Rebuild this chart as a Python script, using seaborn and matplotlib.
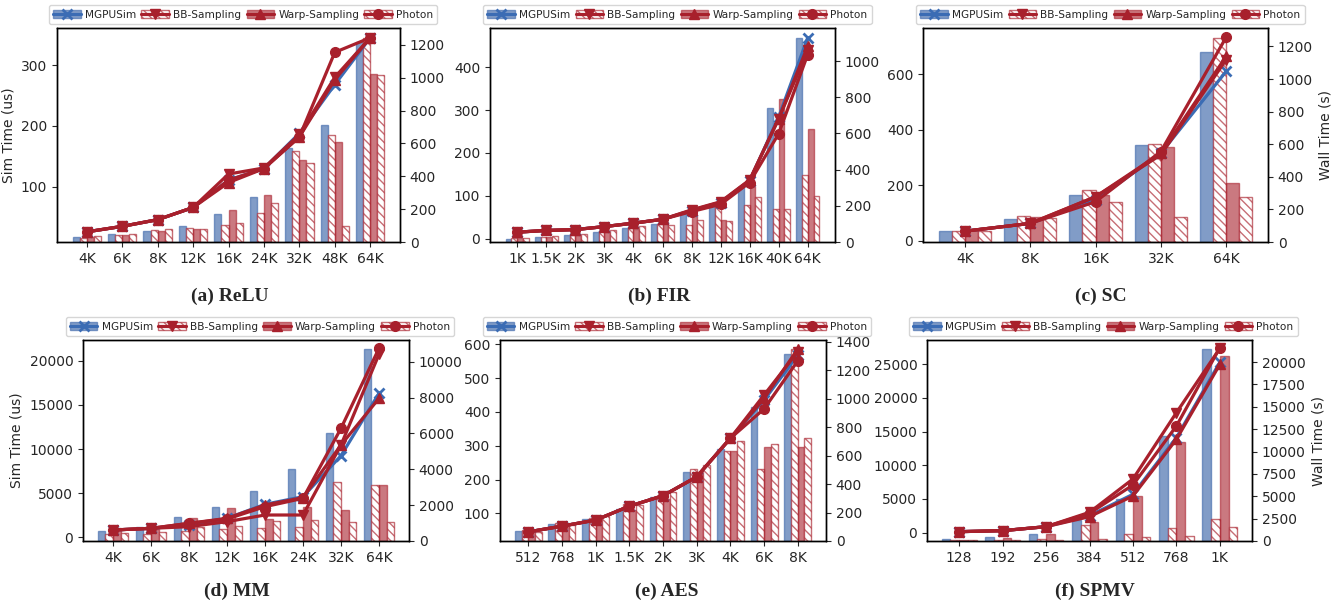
import numpy as np
import pandas as pd
import matplotlib
matplotlib.use("Agg")
import matplotlib.pyplot as plt
import seaborn as sns
from matplotlib.patches import Patch
from matplotlib.lines import Line2D
from matplotlib.ticker import MultipleLocator

# ---------------- data ----------------
methods = ["MGPUSim", "BB-Sampling", "Warp-Sampling", "Photon"]

relu_sizes = ["4K", "6K", "8K", "12K", "16K", "24K", "32K", "48K", "64K"]
relu_wall = {
    "MGPUSim":       [31, 47, 67, 96, 173, 275, 574, 710, 1215],
    "BB-Sampling":   [26, 41, 73, 85, 102, 175, 555, 653, 1240],
    "Warp-Sampling": [31, 45, 67, 77, 195, 285, 498, 606, 1025],
    "Photon":        [35, 47, 77, 77, 114, 236, 480, 100, 1019],
}
relu_sim = {
    "MGPUSim":       [26, 35, 46, 66, 111, 130, 188, 268, 345],
    "BB-Sampling":   [26, 35, 46, 66, 121, 131, 186, 280, 345],
    "Warp-Sampling": [26, 35, 46, 66, 107, 130, 182, 276, 345],
    "Photon":        [26, 35, 46, 66, 111, 130, 182, 321, 345],
}

fir_sizes = ["1K", "1.5K", "2K", "3K", "4K", "6K", "8K", "12K", "16K", "40K", "64K"]
fir_wall = {
    "MGPUSim":       [17, 26, 37, 55, 76, 98, 166, 212, 304, 740, 1127],
    "BB-Sampling":   [20, 28, 37, 61, 76, 102, 92, 205, 203, 183, 369],
    "Warp-Sampling": [20, 28, 39, 54, 72, 111, 152, 124, 308, 793, 624],
    "Photon":        [20, 33, 46, 65, 87, 92, 124, 115, 247, 185, 253],
}
fir_sim = {
    "MGPUSim":       [15, 19, 21, 28, 36, 45, 65, 84, 135, 284, 469],
    "BB-Sampling":   [15, 19, 21, 28, 36, 45, 67, 86, 137, 280, 440],
    "Warp-Sampling": [15, 19, 21, 28, 36, 45, 66, 85, 136, 280, 449],
    "Photon":        [15, 19, 21, 28, 36, 45, 63, 80, 131, 245, 430],
}

sc_sizes = ["4K", "8K", "16K", "32K", "64K"]
sc_wall = {
    "MGPUSim":       [66, 144, 287, 595, 1163],
    "BB-Sampling":   [68, 162, 316, 603, 1251],
    "Warp-Sampling": [72, 154, 287, 585, 363],
    "Photon":        [68, 150, 244, 156, 279],
}
sc_sim = {
    "MGPUSim":       [35, 63, 147, 316, 611],
    "BB-Sampling":   [35, 63, 159, 310, 653],
    "Warp-Sampling": [35, 63, 159, 316, 665],
    "Photon":        [35, 63, 141, 322, 734],
}

mm_sizes = ["4K", "6K", "8K", "12K", "16K", "24K", "32K", "64K"]
mm_wall = {
    "MGPUSim":       [574, 799, 1357, 1877, 2788, 4033, 6022, 10725],
    "BB-Sampling":   [390, 390, 558, 650, 706, 799, 3309, 3104],
    "Warp-Sampling": [706, 650, 1264, 1822, 1227, 1914, 1729, 3104],
    "Photon":        [465, 520, 799, 836, 1115, 1171, 1041, 1078],
}
mm_sim = {
    "MGPUSim":       [830, 1019, 1396, 2151, 3736, 4604, 9245, 16302],
    "BB-Sampling":   [830, 1019, 1208, 1774, 2528, 2528, 10453, 20717],
    "Warp-Sampling": [830, 1019, 1585, 2151, 3660, 4491, 10453, 15736],
    "Photon":        [830, 1019, 1585, 2075, 3472, 4415, 12340, 21396],
}

aes_sizes = ["512", "768", "1K", "1.5K", "2K", "3K", "4K", "6K", "8K"]
aes_wall = {
    "MGPUSim":       [70, 117, 152, 222, 307, 485, 644, 939, 1311],
    "BB-Sampling":   [75, 124, 164, 258, 318, 504, 635, 504, 1349],
    "Warp-Sampling": [75, 124, 155, 218, 295, 475, 630, 660, 658],
    "Photon":        [66, 112, 178, 253, 347, 534, 705, 679, 721],
}
aes_sim = {
    "MGPUSim":       [45, 62, 80, 121, 152, 208, 322, 435, 568],
    "BB-Sampling":   [45, 62, 80, 121, 152, 208, 322, 450, 578],
    "Warp-Sampling": [45, 62, 80, 121, 152, 208, 322, 440, 586],
    "Photon":        [45, 62, 80, 121, 152, 208, 322, 409, 551],
}

spmv_sizes = ["128", "192", "256", "384", "512", "768", "1K"]
spmv_wall = {
    "MGPUSim":       [186, 410, 782, 2347, 4694, 11736, 21498],
    "BB-Sampling":   [112, 112, 261, 1788, 745, 1416, 2459],
    "Warp-Sampling": [149, 373, 820, 2161, 5030, 11103, 20715],
    "Photon":        [75, 75, 149, 186, 410, 559, 1602],
}
spmv_sim = {
    "MGPUSim":       [149, 297, 891, 2525, 5693, 14109, 25297],
    "BB-Sampling":   [149, 297, 891, 3020, 7970, 17822, 27376],
    "Warp-Sampling": [149, 297, 891, 2376, 5446, 13861, 25000],
    "Photon":        [149, 297, 891, 2871, 7079, 15842, 27475],
}

# ---------------- style ----------------
sns.set_style("ticks")
plt.rcParams["font.family"] = ["DejaVu Sans"]
plt.rcParams["hatch.linewidth"] = 1.0
plt.rcParams["axes.linewidth"] = 1.0
plt.rcParams["xtick.labelsize"] = 10
plt.rcParams["ytick.labelsize"] = 10
plt.rcParams["xtick.major.size"] = 3.5
plt.rcParams["ytick.major.size"] = 3.5

BLUE_LINE = "#3b6cb4"
RED_LINE = "#a8202c"
BLUE_BAR = (0.298, 0.447, 0.690, 0.7)
RED_BAR = (0.659, 0.125, 0.173, 0.6)
RED_EDGE = (0.659, 0.125, 0.173, 0.65)

bar_styles = {
    "MGPUSim":       dict(fc=BLUE_BAR, ec=BLUE_BAR, hatch=None),
    "BB-Sampling":   dict(fc="white", ec=RED_EDGE, hatch="\\\\\\\\"),
    "Warp-Sampling": dict(fc=RED_BAR, ec=RED_BAR, hatch=None),
    "Photon":        dict(fc="white", ec=RED_EDGE, hatch="\\\\\\\\"),
}
line_styles = {
    "MGPUSim":       dict(color=BLUE_LINE, marker="x", mew=2.0),
    "BB-Sampling":   dict(color=RED_LINE, marker="v", mew=1.0),
    "Warp-Sampling": dict(color=RED_LINE, marker="^", mew=1.0),
    "Photon":        dict(color=RED_LINE, marker="o", mew=1.0),
}

W, H = 1331, 609
fig = plt.figure(figsize=(W / 100, H / 100), dpi=100)

panels = [
    dict(title="(a) ReLU", sizes=relu_sizes, wall=relu_wall, sim=relu_sim,
         rect=(57, 28, 343, 214), simlim=(9.3, 361), walllim=(0, 1302),
         simstep=100, wallstep=200,
         left="Sim Time (us)", right=None, tx=230, ty=296),
    dict(title="(b) FIR", sizes=fir_sizes, wall=fir_wall, sim=fir_sim,
         rect=(490, 28, 345, 214), simlim=(-8, 492), walllim=(0, 1183),
         simstep=100, wallstep=200,
         left=None, right=None, tx=659, ty=296),
    dict(title="(c) SC", sizes=sc_sizes, wall=sc_wall, sim=sc_sim,
         rect=(923, 28, 345, 214), simlim=(-4, 767), walllim=(0, 1313),
         simstep=200, wallstep=200,
         left=None, right="Wall Time (s)", tx=1101, ty=296),
    dict(title="(d) MM", sizes=mm_sizes, wall=mm_wall, sim=mm_sim,
         rect=(83, 340, 326, 201), simlim=(-415, 22340), walllim=(0, 11208),
         simstep=5000, wallstep=2000,
         left="Sim Time (us)", right=None, tx=237, ty=591),
    dict(title="(e) AES", sizes=aes_sizes, wall=aes_wall, sim=aes_sim,
         rect=(500, 340, 326, 201), simlim=(18, 613), walllim=(0, 1412),
         simstep=100, wallstep=200,
         left=None, right=None, tx=667, ty=591),
    dict(title="(f) SPMV", sizes=spmv_sizes, wall=spmv_wall, sim=spmv_sim,
         rect=(927, 340, 325, 201), simlim=(-1238, 28614), walllim=(0, 22466),
         simstep=5000, wallstep=2500,
         left=None, right="Wall Time (s)", tx=1095, ty=591),
]

for p in panels:
    x0, y0, w, h = p["rect"]
    axb = fig.add_axes([x0 / W, 1 - (y0 + h) / H, w / W, h / H])
    sizes = p["sizes"]
    n = len(sizes)
    df = pd.DataFrame({
        "size": [s for m in methods for s in sizes],
        "method": [m for m in methods for s in sizes],
        "wall": [v for m in methods for v in p["wall"][m]],
    })
    sns.barplot(data=df, x="size", y="wall", hue="method", order=sizes,
                hue_order=methods, ax=axb, width=0.8, errorbar=None,
                legend=False, saturation=1, palette=["#888888"] * 4)
    for cont, m in zip(axb.containers, methods):
        st = bar_styles[m]
        for patch in cont:
            patch.set_facecolor(st["fc"])
            patch.set_edgecolor(st["ec"])
            patch.set_linewidth(1.0)
            if st["hatch"]:
                patch.set_hatch(st["hatch"])
                if hasattr(patch, "set_hatchcolor"):
                    patch.set_hatchcolor(st["ec"])

    axl = axb.twinx()
    xs = np.arange(n)
    for m in methods:
        ls = line_styles[m]
        sns.lineplot(x=xs, y=p["sim"][m], ax=axl, color=ls["color"],
                     marker=ls["marker"], markersize=7, linewidth=2.3,
                     markeredgecolor=ls["color"], markeredgewidth=ls["mew"])

    # bars -> right axis (wall time), lines -> left axis (sim time)
    axb.yaxis.tick_right()
    axb.yaxis.set_label_position("right")
    axl.yaxis.tick_left()
    axl.yaxis.set_label_position("left")

    span = (n - 1) + 0.8
    axb.set_xlim(-0.4 - 0.05 * span, n - 1 + 0.4 + 0.05 * span)
    axb.set_ylim(*p["walllim"])
    axl.set_ylim(*p["simlim"])
    axb.yaxis.set_major_locator(MultipleLocator(p["wallstep"]))
    axl.yaxis.set_major_locator(MultipleLocator(p["simstep"]))
    axb.set_xticks(xs)
    axb.set_xticklabels(sizes)
    axb.set_xlabel("")
    axl.set_xlabel("")
    axb.set_ylabel(p["right"] if p["right"] else "", fontsize=10)
    axl.set_ylabel(p["left"] if p["left"] else "", fontsize=10)
    for ax in (axb, axl):
        for sp in ax.spines.values():
            sp.set_visible(True)
            sp.set_color("black")

    handles = []
    for m in methods:
        st = bar_styles[m]
        ls = line_styles[m]
        patch = Patch(facecolor=st["fc"], edgecolor=st["ec"],
                      hatch=st["hatch"] if st["hatch"] else None)
        line = Line2D([], [], color=ls["color"], marker=ls["marker"],
                      markersize=7, linewidth=2.3, markeredgecolor=ls["color"],
                      markeredgewidth=ls["mew"])
        handles.append((patch, line))
    axl.legend(handles, methods, ncol=4, loc="lower center",
               bbox_to_anchor=(0.543, 1.0), fontsize=7.6, handlelength=2.6,
               handletextpad=0.4, columnspacing=0.5, borderaxespad=0.4,
               frameon=True)

    fig.text(p["tx"] / W, 1 - p["ty"] / H, p["title"], ha="center", va="center",
             fontsize=14, fontweight="bold", family=["Liberation Serif"])

fig.savefig("out.png", dpi=100)
